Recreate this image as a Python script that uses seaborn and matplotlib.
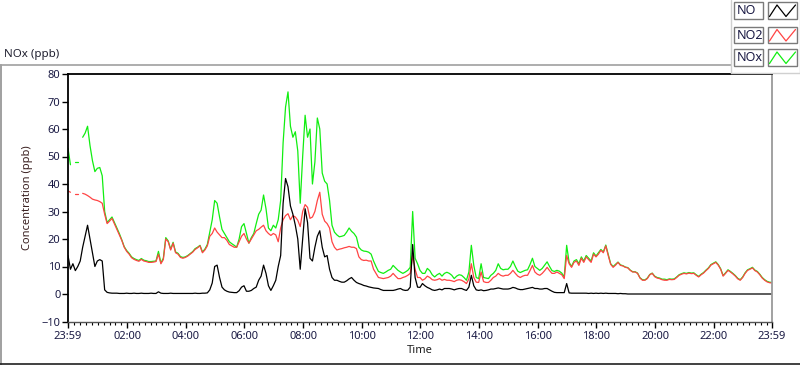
import numpy as np
import pandas as pd
import matplotlib
matplotlib.use("Agg")
import matplotlib.pyplot as plt
import seaborn as sns
from matplotlib.lines import Line2D
from matplotlib.patches import Rectangle

nan = np.nan
STEP_MIN = 5  # sampling interval (minutes since 23:59)

NO = [
    14, 9, 11, 8.5, 10, 12, 17, 21, 25, 20, 15, 10,
    12, 12.5, 12, 1.5, 0.6, 0.4, 0.3, 0.3, 0.3, 0.2, 0.2, 0.2,
    0.3, 0.2, 0.2, 0.3, 0.2, 0.2, 0.3, 0.2, 0.2, 0.2, 0.3, 0.2,
    0.2, 0.8, 0.3, 0.2, 0.2, 0.2, 0.3, 0.2, 0.2, 0.2, 0.2, 0.2,
    0.2, 0.2, 0.2, 0.2, 0.3, 0.2, 0.2, 0.3, 0.3, 0.4, 1.5, 4,
    10, 10.5, 6, 2.5, 1.5, 1, 0.7, 0.6, 0.5, 0.5, 1.2, 2.5,
    3, 1, 1, 1.3, 2, 2.5, 5, 6.5, 10.5, 7.5, 3, 1.3,
    3, 5, 10, 14, 33, 42, 39, 32, 29, 25, 20, 9,
    20, 31, 26, 13, 12, 17, 21, 23, 17, 13.5, 14, 9,
    6, 5, 5, 4.6, 4.3, 4.3, 4.8, 5.5, 6, 5, 4.2, 3.8,
    3.5, 3.1, 2.9, 2.6, 2.4, 2.2, 2.1, 2, 1.6, 1.3, 1.3, 1.3,
    1.3, 1.3, 1.5, 1.8, 2, 1.5, 1.3, 1.4, 2.5, 18, 6, 2.5,
    2.4, 3.8, 3, 2.4, 2, 1.5, 1.3, 1.5, 1.8, 1.5, 2, 2,
    2, 1.8, 1.5, 1.8, 2, 2, 1.6, 1.3, 2.5, 6.8, 3, 1.5,
    1.3, 1.5, 1.2, 1.3, 1.5, 1.8, 1.8, 2, 2.2, 2, 1.8, 1.8,
    1.8, 2, 2.4, 2.2, 1.8, 1.6, 1.6, 1.8, 2, 2.2, 2.4, 2,
    2, 1.8, 1.8, 2, 2, 1.5, 1, 0.6, 0.5, 0.5, 0.5, 0.5,
    3.8, 0.4, 0.3, 0.3, 0.3, 0.3, 0.3, 0.3, 0.3, 0.2, 0.3, 0.2,
    0.3, 0.2, 0.3, 0.2, 0.3, 0.2, 0.2, 0.2, 0.2, 0.1, 0.2, 0.1,
    0.1, 0, 0, 0, 0, 0, 0, 0, 0, 0, 0, 0,
    0, 0, 0, 0, 0, 0, 0, 0, 0, 0, 0, 0,
    0, 0, 0, 0, 0, 0, 0, 0, 0, 0, 0, 0,
    0, 0, 0, 0, 0, 0, 0, 0, 0, 0, 0, 0,
    0, 0, 0, 0, 0, 0, 0, 0, 0, 0, 0, 0,
    0,
]

NO2 = [
    37.5, 37, nan, 36.5, 36.5, nan, 36.6, 36.3, 35.8, 35.2, 34.5, 34.2,
    34, 33.6, 33, 29, 25.6, 26.5, 27.5, 25.5, 23.5, 21.5, 19.5, 17,
    15.5, 14.5, 13.2, 12.6, 12.2, 11.9, 12.6, 12, 11.8, 11.5, 11.5, 11.6,
    11.8, 14.5, 11, 12.5, 20, 19, 16, 18.5, 15, 14.5, 13.3, 13,
    13.3, 13.8, 14.5, 15.2, 16.2, 16.8, 17.5, 15, 16, 17.5, 21, 22,
    24, 22.5, 21.5, 20.5, 20.5, 19.5, 18, 17.5, 17, 17, 19, 21,
    22, 20, 18.5, 20, 21.5, 23, 23.5, 24.3, 25, 23, 22, 21.3,
    22, 21.5, 19, 24, 27, 28.5, 29.2, 27, 28.5, 28, 26.8, 24.5,
    30, 32.5, 31.5, 27.5, 28, 30, 34, 37, 29, 26.5, 25.6, 24,
    19, 17, 16, 16.3, 16.5, 16.8, 17, 17.3, 17, 17, 16.5, 13.5,
    12.5, 12.2, 12.3, 12, 12, 9, 7.5, 6, 5.8, 5.6, 5.8, 6,
    6.5, 7.5, 6.5, 5.6, 5.6, 6, 6.3, 6.8, 7.5, 14, 9, 6,
    6, 5, 5.5, 6.5, 6, 5.2, 5, 5.2, 5.6, 5, 5.3, 5,
    5, 4.8, 4.5, 5, 5.2, 5, 4.5, 3.8, 5.5, 11, 6, 4.3,
    4.2, 8, 4.5, 4.2, 4.2, 5, 6, 6.5, 7.5, 6.8, 6.5, 6.8,
    6.8, 7.5, 8.6, 7.5, 6.5, 6, 6.5, 6.8, 6.8, 8.5, 10.4, 8,
    7.2, 6.8, 7.5, 8.5, 9.7, 8.5, 7.5, 7.5, 8, 7.5, 7, 5.6,
    14, 11, 9.7, 11.5, 12, 10.4, 13, 11.5, 13.5, 12.5, 11.5, 14.5,
    13.5, 14.5, 15.9, 15, 17.5, 14, 10.8, 9.7, 10.5, 11.5, 10.4, 10.2,
    9.7, 9.5, 8.6, 8, 8, 7.5, 5.8, 5, 5, 5.6, 7, 7.5,
    6.3, 5.8, 5.6, 5.2, 5, 5, 5.3, 5.2, 5.3, 6, 6.8, 7.2,
    7.5, 7.3, 7.6, 7.4, 7.5, 6.8, 6.2, 7, 7.6, 8.5, 9.3, 10.5,
    11, 11.5, 10.5, 9, 6.5, 7.5, 8.6, 8, 7.3, 6.5, 5.5, 5,
    6, 7.5, 8.6, 9, 9.5, 8.5, 8, 7, 5.8, 5, 4.4, 4.1,
    4,
]

NOX = [
    53, 47, nan, 48, 48, nan, 57, 58.5, 61, 54, 48.5, 44.5,
    45.7, 46, 43, 30, 26, 27, 28, 26, 24, 22, 19.7, 17.2,
    15.8, 14.8, 13.5, 12.9, 12.5, 12.2, 12.9, 12.3, 12.1, 11.8, 11.8, 11.9,
    12, 15.5, 11.3, 13, 20.5, 19.3, 16.3, 18.8, 15.3, 14.8, 13.6, 13.3,
    13.5, 14, 14.7, 15.4, 16.5, 17, 17.7, 15.3, 16.3, 18, 22.5, 27,
    34, 33, 28, 23.5, 22, 20.5, 19, 18.3, 17.7, 17, 20, 24.5,
    25.6, 22, 18.5, 20.5, 22, 25.6, 29, 30.5, 36, 31, 24, 23,
    25, 24, 27, 34, 55, 68, 73.5, 61, 57, 59, 52, 33,
    50, 65, 57, 60, 40, 48, 64, 60, 44, 41, 40, 34,
    25, 22.5, 21.5, 20.8, 21, 21.3, 22.5, 24, 22.8, 22, 20.7, 17,
    16, 15.6, 15.5, 15.2, 14.5, 12, 10, 8.2, 7.8, 7.5, 8, 8.6,
    9, 10.4, 9.5, 8.6, 8, 7.5, 8, 8.6, 9.7, 30, 13, 11,
    8.6, 7.5, 7.5, 9.3, 8.5, 7, 6.2, 7, 7.5, 6.5, 7.5, 7.9,
    7.5, 6.8, 5.6, 6.5, 7, 6.8, 6, 5, 8, 17.7, 10.4, 6,
    5.6, 11, 6, 5.8, 5.6, 6.8, 7.5, 8.6, 11, 9.3, 8.8, 9,
    9, 10, 12, 10, 8.3, 7.8, 8.2, 8.6, 8.8, 10.7, 13, 10,
    9.3, 8.6, 9.3, 10.5, 11.7, 10, 8.5, 8.2, 8.6, 8.3, 7.6, 6.2,
    17.7, 11.5, 10, 12, 12.5, 11, 13.5, 12, 14, 13, 12, 15,
    13.8, 15, 16.2, 15.3, 17.8, 14.4, 11, 10, 10.8, 11.6, 10.6, 10.3,
    9.8, 9.6, 8.7, 8.1, 8.1, 7.6, 5.9, 5.2, 5.1, 5.8, 7.1, 7.6,
    6.5, 6, 5.8, 5.4, 5.4, 5.2, 5.5, 5.4, 5.5, 6.2, 7, 7.4,
    7.7, 7.5, 7.8, 7.6, 7.7, 7, 6.4, 7.2, 7.8, 8.7, 9.5, 10.7,
    11.2, 11.7, 10.7, 9.2, 6.7, 7.7, 8.8, 8.2, 7.5, 6.7, 5.7, 5.2,
    6.2, 7.7, 8.8, 9.2, 9.7, 8.7, 8.2, 7.2, 6, 5.2, 4.6, 4.3,
    4.2,
]

SERIES = ["NO", "NO2", "NOx"]
COLORS = {"NO": "#000000", "NO2": "#ff4444", "NOx": "#11ee11"}
TICK_LABELS = ["23:59", "02:00", "04:00", "06:00", "08:00", "10:00", "12:00",
               "14:00", "16:00", "18:00", "20:00", "22:00", "23:59"]
TICK_MIN = [0, 121, 241, 361, 481, 601, 721, 841, 961, 1081, 1201, 1321, 1440]

# ---- long-form table, with segment ids so gaps (NaN) break the lines ----
frames = []
for name, vals in zip(SERIES, [NO, NO2, NOX]):
    v = np.asarray(vals, dtype=float)
    t = np.arange(len(v)) * STEP_MIN
    seg = np.cumsum(np.isnan(v))
    d = pd.DataFrame({"t": t, "v": v, "series": name,
                      "seg": [f"{name}_{s}" for s in seg]})
    frames.append(d.dropna())
df = pd.concat(frames, ignore_index=True)

sns.set_theme(style="white")
plt.rcParams["font.family"] = ["Noto Sans", "DejaVu Sans"]

W, H = 800, 365
fig = plt.figure(figsize=(W / 100, H / 100), dpi=100)
L, R, T, B = 68, 772, 74, 321.5
ax = fig.add_axes([L / W, 1 - B / H, (R - L) / W, (B - T) / H])

sns.lineplot(data=df, x="t", y="v", hue="series", units="seg", estimator=None,
             hue_order=["NOx", "NO2", "NO"], palette=COLORS, lw=0.9,
             legend=False, ax=ax, sort=True)

ax.set_xlim(0, 1440)
ax.set_ylim(-10, 80)
ax.set_yticks(np.arange(-10, 81, 10))
ax.set_xticks(TICK_MIN, TICK_LABELS)
ax.set_xticks(np.arange(1, 1440, 12), minor=True)
lab_col = "#1a1a44"
ax.tick_params(axis="y", which="major", direction="out", length=4, width=1,
               color="black", labelsize=8, labelcolor=lab_col, pad=1.5, left=True)
ax.tick_params(axis="x", which="major", direction="out", length=4, width=1,
               color="black", labelsize=8, labelcolor=lab_col, pad=3, bottom=True)
ax.tick_params(axis="x", which="minor", direction="out", length=2.2, width=0.8,
               color="black", bottom=True)
ax.set_xlabel("Time", fontsize=8, color="#202020", labelpad=2)
ax.set_ylabel("Concentration (ppb)", fontsize=8, color="#3a2020", labelpad=6)
ax.grid(False)
for side in ["left", "top"]:
    ax.spines[side].set_color("black")
    ax.spines[side].set_linewidth(1.3)
ax.spines["right"].set_color("#9a9a9a")
ax.spines["right"].set_linewidth(1.3)
ax.spines["bottom"].set_color("#555555")
ax.spines["bottom"].set_linewidth(1.0)

# ---- panel decoration (pixel-coordinate overlay) ----
ov = fig.add_axes([0, 0, 1, 1], zorder=5)
ov.set_xlim(0, W)
ov.set_ylim(H, 0)
ov.axis("off")
ov.patch.set_alpha(0)
grey = "#a0a0a0"
ov.add_line(Line2D([0, 731], [65, 65], color=grey, lw=1.2))
ov.add_line(Line2D([0.7, 0.7], [65, H], color=grey, lw=1.4))
ov.add_line(Line2D([0, W], [364, 364], color="#202020", lw=1.2))
ov.add_line(Line2D([731, 731], [0, 73], color="#d0d0d0", lw=1.0))
ov.add_line(Line2D([731, W], [73, 73], color="#d0d0d0", lw=1.0))
ov.add_line(Line2D([799.5, 799.5], [0, 73], color="#d0d0d0", lw=1.0))

fig.text(4 / W, 1 - 57 / H, "NOx (ppb)", fontsize=8.3, color="#202030",
         ha="left", va="baseline")

rows = [(2, "NO"), (26.5, "NO2"), (49, "NOx")]
for top, name in rows:
    ov.add_patch(Rectangle((734, top), 29, 16.5, fill=False, ec="#7a7a7a", lw=1.0))
    ov.add_patch(Rectangle((768, top), 29, 16.5, fill=False, ec="#7a7a7a", lw=1.0))
    ov.text(736.5, top + 8.6, name, fontsize=9, color="#1a1a44", ha="left", va="center")
    ov.add_line(Line2D([769.5, 777, 786, 795.5],
                       [top + 14.5, top + 3, top + 14.5, top + 3],
                       color=COLORS[name], lw=0.9))

fig.savefig("out.png", dpi=100)
